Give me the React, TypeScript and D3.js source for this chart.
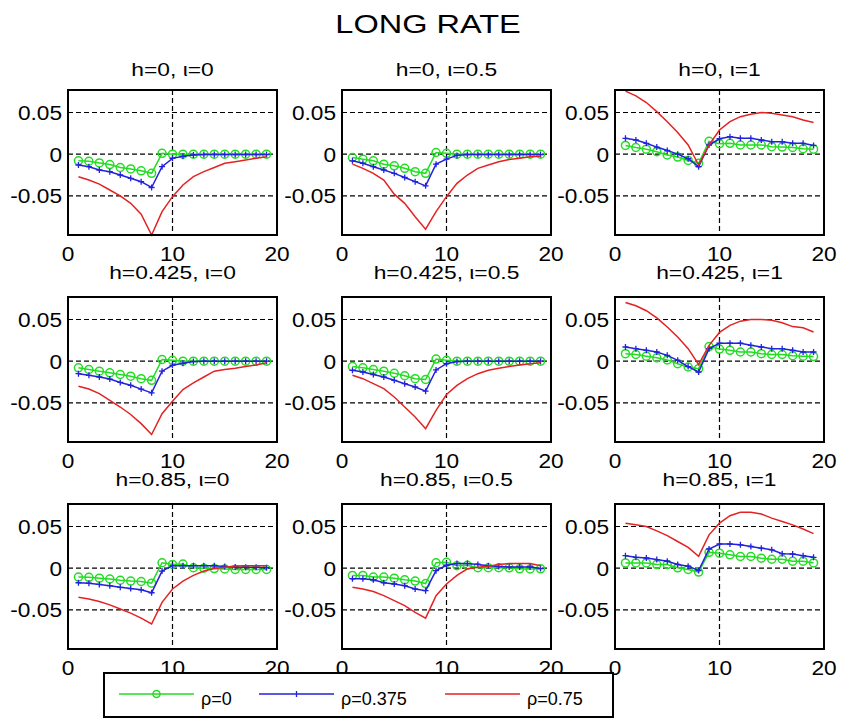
import React from 'react';
import * as d3 from 'd3';

const steps = [1, 2, 3, 4, 5, 6, 7, 8, 9, 10, 11, 12, 13, 14, 15, 16, 17, 18, 19];

const panelTitles = [
  'h=0, ι=0', 'h=0, ι=0.5', 'h=0, ι=1',
  'h=0.425, ι=0', 'h=0.425, ι=0.5', 'h=0.425, ι=1',
  'h=0.85, ι=0', 'h=0.85, ι=0.5', 'h=0.85, ι=1',
];

const seriesNames = ['ρ=0', 'ρ=0.375', 'ρ=0.75'];
const xTicks = [0, 10, 20];
const yTicks = [0.05, 0, -0.05];
const yTickLabels = ['0.05', '0', '-0.05'];
const xDomain = [0, 20];
const yDomain = [-0.097, 0.077];

// rho = 0 (green, circles)
const greenSeries = [
  [-0.008, -0.0085, -0.0105, -0.0125, -0.016, -0.0177, -0.02, -0.023, 0.001, 0, 0, 0, 0, 0, 0, 0, 0, 0, 0],
  [-0.004, -0.006, -0.008, -0.012, -0.014, -0.017, -0.021, -0.023, 0.002, 0.001, 0, 0, 0, 0, 0, 0, 0, 0, 0],
  [0.0105, 0.008, 0.006, 0.003, -0.001, -0.0035, -0.0075, -0.011, 0.0155, 0.0125, 0.013, 0.011, 0.011, 0.011, 0.009, 0.0085, 0.008, 0.0065, 0.006],
  [-0.008, -0.01, -0.012, -0.014, -0.016, -0.018, -0.021, -0.023, 0.002, 0.001, 0, 0, 0, 0, 0, 0, 0, 0, 0],
  [-0.0065, -0.008, -0.01, -0.012, -0.0145, -0.0175, -0.021, -0.022, 0.0025, 0.001, 0, 0, 0, 0, 0, 0, 0, 0, 0],
  [0.009, 0.008, 0.006, 0.004, 0.0015, -0.003, -0.007, -0.009, 0.0175, 0.0145, 0.013, 0.011, 0.011, 0.009, 0.008, 0.008, 0.0065, 0.006, 0.0055],
  [-0.0107, -0.011, -0.012, -0.013, -0.0145, -0.0155, -0.016, -0.018, 0.0065, 0.0045, 0.005, 0.0005, 0, -0.0005, -0.001, -0.0015, -0.0015, -0.0015, -0.0015],
  [-0.0087, -0.0087, -0.0107, -0.0107, -0.012, -0.014, -0.0155, -0.0185, 0.0065, 0.007, 0.003, 0.0035, 0.0005, 0.0005, 0.0005, 0.0004, -0.0008, -0.001, -0.0008],
  [0.0063, 0.0063, 0.0063, 0.0043, 0.0043, 0.0004, -0.0016, -0.0047, 0.019, 0.018, 0.016, 0.014, 0.014, 0.012, 0.0107, 0.0107, 0.0083, 0.0083, 0.0063],
];

// rho = 0.375 (blue, plus markers)
const blueSeries = [
  [-0.013, -0.015, -0.019, -0.021, -0.025, -0.029, -0.033, -0.04, -0.015, -0.005, -0.0025, -0.001, -0.0005, -0.0005, -0.0005, -0.0005, -0.0005, -0.0005, -0.0005],
  [-0.008, -0.011, -0.015, -0.019, -0.023, -0.028, -0.033, -0.038, -0.012, -0.006, -0.0015, -0.0005, -0.0005, -0.0005, -0.0005, -0.0005, -0.0005, -0.0005, -0.0005],
  [0.019, 0.017, 0.013, 0.0085, 0.0045, 0, -0.0055, -0.015, 0.011, 0.0185, 0.021, 0.019, 0.019, 0.017, 0.015, 0.015, 0.013, 0.013, 0.0105],
  [-0.015, -0.017, -0.019, -0.0215, -0.0255, -0.029, -0.0335, -0.038, -0.012, -0.005, -0.0025, -0.0005, 0, 0, 0, 0, 0, 0, 0],
  [-0.011, -0.013, -0.016, -0.019, -0.023, -0.027, -0.031, -0.036, -0.0105, -0.003, -0.0005, 0, 0, 0, 0, 0, 0, 0, 0],
  [0.017, 0.015, 0.013, 0.011, 0.007, 0.001, -0.0065, -0.013, 0.015, 0.0215, 0.0215, 0.0215, 0.019, 0.017, 0.015, 0.015, 0.013, 0.011, 0.011],
  [-0.0175, -0.018, -0.0195, -0.021, -0.023, -0.0245, -0.026, -0.0295, -0.0035, 0.003, 0.003, 0.003, 0.003, 0.0028, 0.002, 0.0015, 0.0012, 0.001, 0.0005],
  [-0.0126, -0.0126, -0.014, -0.0175, -0.019, -0.021, -0.025, -0.027, -0.003, 0.0035, 0.0055, 0.0055, 0.0045, 0.003, 0.002, 0.0015, 0.0015, 0.0015, -0.0005],
  [0.015, 0.013, 0.0122, 0.0103, 0.0083, 0.0043, 0.0024, -0.0028, 0.023, 0.029, 0.029, 0.028, 0.026, 0.024, 0.022, 0.0174, 0.017, 0.015, 0.013],
];

// rho = 0.75 (red, plain line)
const redSeries = [
  [-0.027, -0.031, -0.036, -0.043, -0.05, -0.059, -0.072, -0.097, -0.069, -0.051, -0.037, -0.027, -0.021, -0.016, -0.011, -0.009, -0.007, -0.005, -0.003],
  [-0.012, -0.017, -0.023, -0.031, -0.048, -0.059, -0.075, -0.09, -0.069, -0.051, -0.035, -0.025, -0.017, -0.013, -0.009, -0.0065, -0.005, -0.003, -0.0025],
  [0.0757, 0.07, 0.062, 0.051, 0.039, 0.026, 0.011, -0.013, 0.011, 0.029, 0.039, 0.045, 0.048, 0.05, 0.049, 0.047, 0.045, 0.041, 0.038],
  [-0.03, -0.0335, -0.039, -0.047, -0.055, -0.064, -0.075, -0.088, -0.063, -0.048, -0.034, -0.026, -0.019, -0.012, -0.01, -0.0085, -0.0065, -0.0045, -0.002],
  [-0.017, -0.021, -0.027, -0.033, -0.043, -0.055, -0.067, -0.081, -0.059, -0.04, -0.029, -0.021, -0.015, -0.011, -0.0085, -0.0065, -0.0045, -0.003, -0.002],
  [0.0705, 0.0665, 0.0605, 0.052, 0.041, 0.029, 0.015, -0.004, 0.019, 0.0345, 0.043, 0.048, 0.05, 0.05, 0.049, 0.046, 0.0415, 0.04, 0.035],
  [-0.035, -0.037, -0.04, -0.044, -0.049, -0.054, -0.06, -0.067, -0.041, -0.025, -0.0155, -0.0087, -0.0035, -0.0004, 0.001, 0.0025, 0.003, 0.003, 0.003],
  [-0.023, -0.025, -0.028, -0.033, -0.039, -0.045, -0.053, -0.06, -0.033, -0.019, -0.0087, -0.0008, 0.0012, 0.0024, 0.0045, 0.0055, 0.0055, 0.0055, 0.003],
  [0.054, 0.052, 0.05, 0.0447, 0.039, 0.032, 0.025, 0.0142, 0.04, 0.054, 0.063, 0.067, 0.067, 0.065, 0.06, 0.056, 0.052, 0.047, 0.0415],
];

const GREEN = '#22dd22';
const BLUE = '#2222dd';
const RED = '#e52222';
const FONT = '"Liberation Sans", Arial, Helvetica, sans-serif';

const colX = [68, 342, 615];
const rowY = [90, 297, 504];
const titleY = [76, 279, 486];
const PW = 209;
const PH = 145;

function SText({ x, y, sx, size, anchor, children }: { x: number; y: number; sx: number; size: number; anchor: string; children: React.ReactNode }) {
  return (
    <text transform={`translate(${x},${y}) scale(${sx},1)`} textAnchor={anchor} fontSize={size} fontFamily={FONT} fill="black">
      {children}
    </text>
  );
}

function Panel({ idx }: { idx: number }) {
  const r = Math.floor(idx / 3);
  const c = idx % 3;
  const x0 = colX[c];
  const y0 = rowY[r];
  const x = d3.scaleLinear().domain(xDomain).range([x0, x0 + PW]);
  const y = d3.scaleLinear().domain(yDomain).range([y0 + PH, y0]);
  const line = d3.line<number>().x((_, i) => x(steps[i])).y((d) => y(d));
  const g = greenSeries[idx];
  const b = blueSeries[idx];
  const rd = redSeries[idx];
  const plusPath = b
    .map((d, i) => {
      const px = x(steps[i]);
      const py = y(d);
      return `M${px - 3},${py}h6M${px},${py - 3}v6`;
    })
    .join('');
  return (
    <g>
      <rect x={x0} y={y0} width={PW} height={PH} fill="white" />
      {yTicks.map((t) => (
        <line key={'gy' + t} x1={x0} x2={x0 + PW} y1={y(t)} y2={y(t)} stroke="black" strokeWidth={1.2} strokeDasharray="5,3" />
      ))}
      {xTicks.slice(1, -1).map((t) => (
        <line key={'gx' + t} x1={x(t)} x2={x(t)} y1={y0} y2={y0 + PH} stroke="black" strokeWidth={1.2} strokeDasharray="5,3" />
      ))}
      <path d={line(g) || ''} fill="none" stroke={GREEN} strokeWidth={1.5} />
      {g.map((d, i) => (
        <circle key={'c' + i} cx={x(steps[i])} cy={y(d)} r={4} fill="none" stroke={GREEN} strokeWidth={1.5} />
      ))}
      <path d={line(b) || ''} fill="none" stroke={BLUE} strokeWidth={1.5} />
      <path d={plusPath} fill="none" stroke={BLUE} strokeWidth={1.3} />
      <path d={line(rd) || ''} fill="none" stroke={RED} strokeWidth={1.5} />
      <rect x={x0} y={y0} width={PW} height={PH} fill="none" stroke="black" strokeWidth={2} />
      {yTicks.map((t, i) => (
        <SText key={'yl' + t} x={x0 - 6} y={y(t) + 7.5} sx={1.08} size={21} anchor="end">
          {yTickLabels[i]}
        </SText>
      ))}
      {xTicks.map((t) => (
        <SText key={'xl' + t} x={x(t)} y={y0 + PH + 26} sx={1.08} size={21} anchor="middle">
          {t}
        </SText>
      ))}
      <SText x={x0 + PW / 2} y={titleY[r]} sx={1.2} size={19} anchor="middle">
        {panelTitles[idx]}
      </SText>
    </g>
  );
}

export default function App() {
  const colors = [GREEN, BLUE, RED];
  const legX = [119, 259, 445];
  return (
    <svg width={841} height={719} style={{ position: 'absolute', left: 0, top: 0, background: 'white' }}>
      <rect width={841} height={719} fill="white" />
      <SText x={428} y={33} sx={1.25} size={26} anchor="middle">
        LONG RATE
      </SText>
      {panelTitles.map((_, i) => (
        <Panel key={i} idx={i} />
      ))}
      <g>
        <rect x={104} y={673} width={509} height={44} fill="white" stroke="black" strokeWidth={2} />
        {seriesNames.map((n, i) => (
          <g key={n}>
            <line x1={legX[i]} x2={legX[i] + 75} y1={694} y2={694} stroke={colors[i]} strokeWidth={1.5} />
            {i === 0 && <circle cx={legX[i] + 37.5} cy={694} r={3.5} fill="none" stroke={GREEN} strokeWidth={1.5} />}
            {i === 1 && <path d={`M${legX[i] + 37.5},${691}v6`} stroke={BLUE} strokeWidth={1.3} />}
            <SText x={legX[i] + 82} y={705} sx={1} size={18} anchor="start">
              {n}
            </SText>
          </g>
        ))}
      </g>
    </svg>
  );
}
